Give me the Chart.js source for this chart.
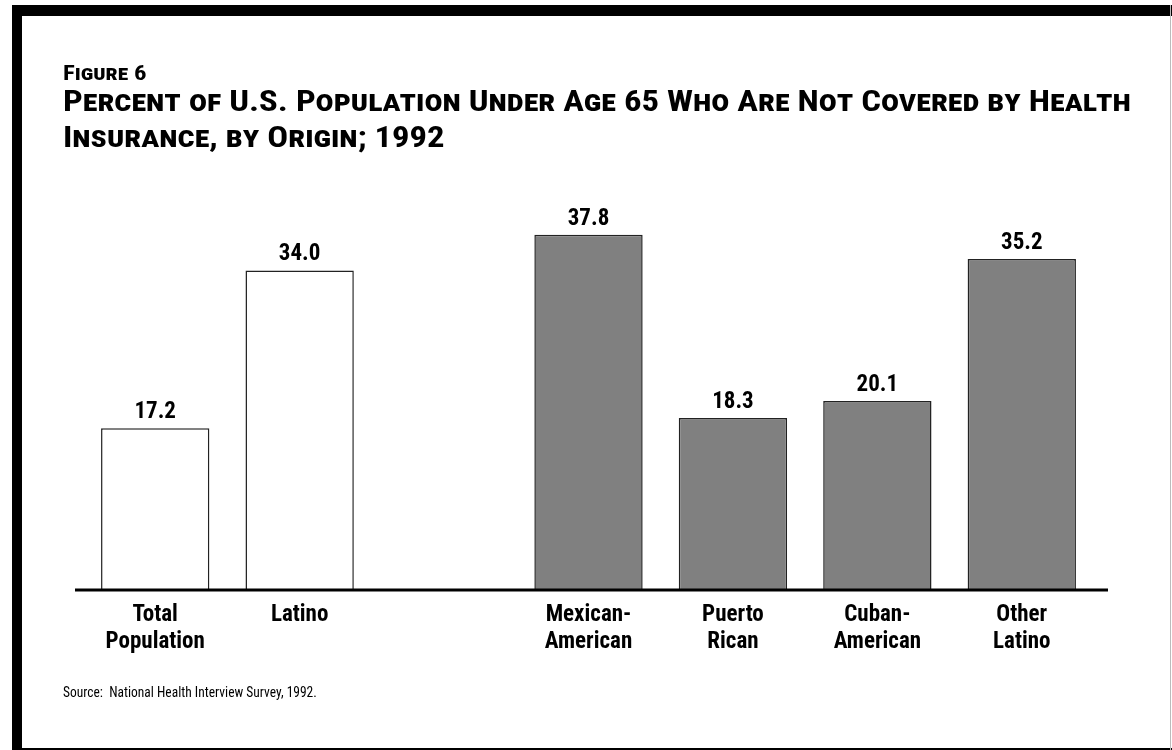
<!DOCTYPE html>
<html>
<head>
<meta charset="utf-8">
<script src="https://cdn.jsdelivr.net/npm/chart.js@4.4.1/dist/chart.umd.min.js"></script>
<style>
  html, body { margin: 0; padding: 0; background: #fff; }
  #wrap { position: relative; width: 1172px; height: 750px; overflow: hidden; background: #fff; }
  #chart { position: absolute; left: 0; top: 0; }
  .frame { position: absolute; background: #000; }
  .txt { position: absolute; font-family: 'Roboto Condensed', 'Roboto', sans-serif; font-stretch: condensed; color: #000; white-space: nowrap; transform-origin: 0 0; }
  #fig { left: 63px; top: 61px; font-size: 21px; font-weight: bold; font-variant: small-caps; transform: scaleX(1.18); }
  #title { left: 63px; top: 83px; font-size: 30px; font-weight: bold; font-variant: small-caps; line-height: 36px; transform: scaleX(1.156); }
  #source { left: 63px; top: 684px; font-size: 14.5px; transform: scaleX(0.93); }
</style>
</head>
<body>
<div id="wrap">
  <canvas id="chart" width="1172" height="750"></canvas>
  <div class="frame" style="left:12px; top:5px; width:1160px; height:11px;"></div>
  <div class="frame" style="left:12px; top:5px; width:10px; height:745px;"></div>
  <div class="frame" style="left:12px; top:748px; width:1160px; height:2px;"></div>
  <div class="frame" style="left:1170px; top:5px; width:1px; height:745px; background:#bbb;"></div>
  <div class="txt" id="fig">Figure 6</div>
  <div class="txt" id="title">Percent of U.S. Population Under Age 65 Who Are Not Covered by Health<br>Insurance, by Origin; 1992</div>
  <div class="txt" id="source">Source:&nbsp; National Health Interview Survey, 1992.</div>
</div>
<script>
const categories = [
  ['Total', 'Population'],
  ['Latino'],
  '',
  ['Mexican-', 'American'],
  ['Puerto', 'Rican'],
  ['Cuban-', 'American'],
  ['Other', 'Latino']
];
const uninsuredPercent = [17.2, 34.0, null, 37.8, 18.3, 20.1, 35.2];
const barColors = ['#ffffff', '#ffffff', '#ffffff', '#808080', '#808080', '#808080', '#808080'];

const FONT = "'Roboto Condensed', 'Roboto', sans-serif";

const extras = {
  id: 'extras',
  afterDatasetsDraw(chart) {
    const ctx = chart.ctx;
    const y0 = chart.scales.y.getPixelForValue(0);
    ctx.save();
    ctx.strokeStyle = '#000';
    ctx.lineWidth = 3;
    ctx.beginPath();
    ctx.moveTo(chart.chartArea.left - 8, y0);
    ctx.lineTo(chart.chartArea.right + 14, y0);
    ctx.stroke();
    ctx.fillStyle = '#000';
    ctx.font = 'bold 23px ' + FONT;
    ctx.textAlign = 'center';
    ctx.textBaseline = 'alphabetic';
    const meta = chart.getDatasetMeta(0);
    meta.data.forEach((bar, i) => {
      const v = chart.data.datasets[0].data[i];
      if (v === null || v === undefined) return;
      ctx.fillText(v.toFixed(1), bar.x, bar.y - 10);
    });
    ctx.restore();
  }
};

new Chart(document.getElementById('chart'), {
  type: 'bar',
  data: {
    labels: categories,
    datasets: [{
      data: uninsuredPercent,
      backgroundColor: barColors,
      borderColor: '#222222',
      borderWidth: 1.5,
      categoryPercentage: 1.0,
      barPercentage: 0.75
    }]
  },
  options: {
    responsive: false,
    animation: false,
    events: [],
    layout: { padding: { left: 83, right: 78, top: 214, bottom: 0 } },
    plugins: { legend: { display: false }, tooltip: { enabled: false }, title: { display: false } },
    scales: {
      y: { display: false, min: 0, max: 40 },
      x: {
        afterFit(scale) { scale.height = 160; },
        grid: { display: false, drawTicks: false },
        border: { display: false },
        ticks: {
          color: '#000',
          padding: 12,
          maxRotation: 0,
          autoSkip: false,
          font: { family: FONT, size: 23, weight: 'bold', lineHeight: 1.17 }
        }
      }
    }
  },
  plugins: [extras]
});
</script>
</body>
</html>
